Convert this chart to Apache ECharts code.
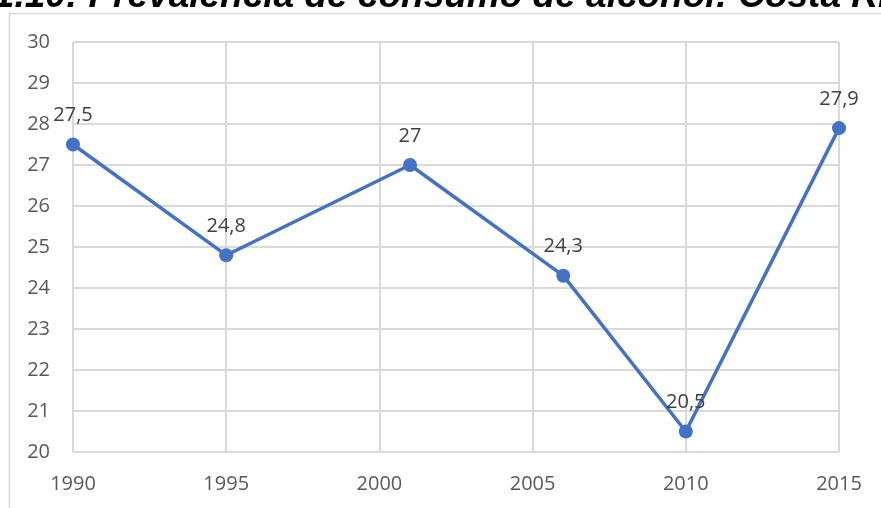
<!DOCTYPE html>
<html>
<head>
<meta charset="utf-8">
<script src="https://cdn.jsdelivr.net/npm/echarts@6/dist/echarts.min.js"></script>
<style>
  html, body { margin: 0; padding: 0; background: #fff; }
  #chart { width: 881px; height: 508px; }
</style>
</head>
<body>
<div id="chart"></div>
<script>
  // datos
  const years = [1990, 1995, 2001, 2006, 2010, 2015];
  const prevalencia = [27.5, 24.8, 27, 24.3, 20.5, 27.9];
  const titulo = 'Gráfico 1.10: Prevalencia de consumo de alcohol: Costa Rica';

  const gris = '#d9d9d9';
  const fuente = '"Open Sans", "Noto Sans", sans-serif';

  let c = echarts.init(document.getElementById('chart'));
  c.setOption({
    animation: false,
    backgroundColor: '#fff',
    graphic: [
      {//titulo cortado arriba
        type: 'text',
        x: -146,
        y: 15,
        silent: true,
        style: {
          text: titulo,
          fill: '#000',
          align: 'left',
          verticalAlign: 'bottom',
          font: 'italic bold 37px "Liberation Sans", Arial, sans-serif'
        }
      },
      {//borde del area del grafico
        type: 'rect',
        shape: { x: 9.5, y: 13.5, width: 1000, height: 1000 },
        style: { fill: 'none', stroke: gris, lineWidth: 1.5 },
        silent: true
      }
    ],
    grid: { left: 73, right: 42, top: 42, bottom: 56 },
    xAxis: {
      type: 'value',
      min: 1990,
      max: 2015,
      interval: 5,
      axisLine: { show: false },
      axisTick: { show: false },
      splitLine: { lineStyle: { color: gris, width: 2 } },
      axisLabel: {
        color: '#595959', fontSize: 20, fontFamily: fuente, margin: 22,
        formatter: v => String(v)
      }
    },
    yAxis: {
      type: 'value',
      min: 20,
      max: 30,
      interval: 1,
      axisLine: { show: false },
      axisTick: { show: false },
      splitLine: { lineStyle: { color: gris, width: 2 } },
      axisLabel: { color: '#595959', fontSize: 20, fontFamily: fuente, margin: 23 }
    },
    series: [{
      type: 'line',
      data: years.map((y, i) => [y, prevalencia[i]]),
      symbol: 'circle',
      symbolSize: 14,
      lineStyle: { color: '#4472c4', width: 3.5 },
      itemStyle: { color: '#4472c4' },
      label: {
        show: true,
        position: 'top',
        distance: 12,
        color: '#404040',
        fontSize: 20,
        fontFamily: fuente,
        formatter: p => String(p.value[1]).replace('.', ',')
      }
    }]
  });
</script>
</body>
</html>
